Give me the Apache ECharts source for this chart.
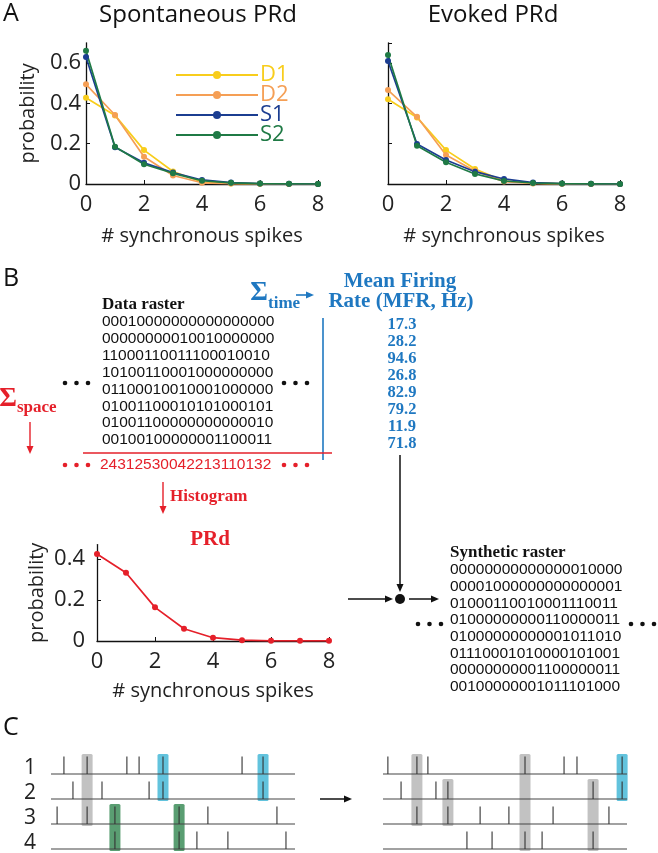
<!DOCTYPE html>
<html><head><meta charset="utf-8">
<script src="https://cdn.jsdelivr.net/npm/echarts@6/dist/echarts.min.js"></script>
<style>html,body{margin:0;padding:0;background:#fff}#c{width:658px;height:853px}</style>
</head><body><div id="c"></div>
<script>
// ---------- DATA ----------
const spikeCounts = [0,1,2,3,4,5,6,7,8];
const seriesNames = ['D1','D2','S1','S2'];
const spontD1 = [0.428,0.340,0.168,0.062,0.010,0.003,0.001,0,0];
const spontD2 = [0.494,0.342,0.135,0.042,0.006,0.002,0.001,0,0];
const spontS1 = [0.630,0.182,0.105,0.057,0.020,0.007,0.002,0.001,0];
const spontS2 = [0.660,0.185,0.098,0.053,0.016,0.006,0.002,0.001,0];
const evokD1 = [0.420,0.330,0.168,0.074,0.015,0.004,0.001,0,0];
const evokD2 = [0.466,0.333,0.144,0.065,0.012,0.003,0.001,0,0];
const evokS1 = [0.610,0.198,0.119,0.061,0.025,0.007,0.002,0.001,0];
const evokS2 = [0.640,0.190,0.108,0.050,0.015,0.005,0.002,0.001,0];
const prdExample = [0.424,0.333,0.164,0.060,0.016,0.004,0.001,0.001,0.001];

const dataRaster = [
  '00010000000000000000',
  '00000000010010000000',
  '11000110011100010010',
  '10100110001000000000',
  '01100010010001000000',
  '01001100010101000101',
  '01001100000000000010',
  '00100100000001100011'
];
const spaceSums = '24312530042213110132';
const mfrValues = ['17.3','28.2','94.6','26.8','82.9','79.2','11.9','71.8'];
const syntheticRaster = [
  '00000000000000010000',
  '00001000000000000001',
  '01000110010001110011',
  '01000000000110000011',
  '01000000000001011010',
  '01110001010000101001',
  '00000000001100000011',
  '00100000001011101000'
];
const rowLabels = ['1','2','3','4'];
// spike times (0-100 scale) per neuron row
const leftSpikes = [
  [5.3,14.8,31.1,36.1,45.9,78.3,86.9],
  [9.0,20.9,40.2,45.9,86.9],
  [2.5,14.8,26.2,52.5,64.3,92.6],
  [26.2,52.5,59.8,72.5,96.3]
];
// [time, firstRow, lastRow, colourIndex] 0 gray, 1 blue, 2 green
const leftBands = [[14.8,1,3,0],[45.9,1,2,1],[86.9,1,2,1],[26.2,3,4,2],[52.5,3,4,2]];
const rightSpikes = [
  [2.0,13.9,18.4,58.2,74.2,79.5,98.0],
  [7.4,21.7,26.6,86.1,98.0],
  [13.9,26.6,39.8,51.6,69.7,92.6],
  [34.4,44.7,58.2,65.2,86.1]
];
const rightBands = [[13.9,1,3,0],[26.6,2,3,0],[58.2,1,4,0],[86.1,2,4,0],[98.0,1,2,1]];

// ---------- STYLE ----------
const colors = {D1:'#F8CD1C', D2:'#F59F55', S1:'#1B3D91', S2:'#1F7A45'};
const RED = '#E5202A', BLUE = '#1F78C1';
const SANS = "'Open Sans', sans-serif";
const SERIF = "'Liberation Serif', 'Times New Roman', serif";
const ARIAL = "'Liberation Sans', Arial, sans-serif";
const bandColors = ['#C2C2C2','#62C3DD','#5A9E72'];

const chart = echarts.init(document.getElementById('c'), null, {renderer:'canvas'});
const pairs = arr => spikeCounts.map((x,i)=>[x,arr[i]]);

function probYAxis(gridIndex, max, margin, nameGap){
  return {type:'value', gridIndex, min:0, max, interval:0.2,
    axisLine:{show:true, lineStyle:{color:'#111', width:1.3}},
    axisTick:{show:true, inside:true, length:4, lineStyle:{color:'#111'}},
    splitLine:{show:false}, showMaxLabel:false,
    axisLabel:{show:true, fontSize:22, fontFamily:SANS, color:'#222', margin, showMaxLabel:false},
    name:'probability', nameLocation:'middle', nameGap, nameRotate:90,
    nameTextStyle:{fontSize:20, fontFamily:SANS, color:'#222'}};
}
function countXAxis(gridIndex, nameGap){
  return {type:'value', gridIndex, min:0, max:8, interval:2,
    axisLine:{show:true, lineStyle:{color:'#111', width:1.3}},
    axisTick:{show:true, inside:true, length:4, lineStyle:{color:'#111'}},
    splitLine:{show:false},
    axisLabel:{fontSize:22, fontFamily:SANS, color:'#222', margin:10},
    name:'# synchronous spikes', nameLocation:'middle', nameGap,
    nameTextStyle:{fontSize:20, fontFamily:SANS, color:'#222'}};
}
function lineSeries(name, data, xi, yi, color){
  return {type:'line', name, xAxisIndex:xi, yAxisIndex:yi, data:pairs(data),
    symbol:'circle', symbolSize:6, showSymbol:true,
    lineStyle:{color, width:1.7}, itemStyle:{color}, z:3};
}
function rasterXAxis(gi){return {type:'value', gridIndex:gi, min:0, max:100, show:false};}
function rasterYAxis(gi, showLabels){
  return {type:'value', gridIndex:gi, min:0, max:4.12, interval:1, inverse:true,
    axisLine:{show:false}, axisTick:{show:false}, splitLine:{show:false},
    axisLabel:{show:showLabels, fontSize:21, fontFamily:SANS, color:'#222', margin:15,
      verticalAlign:'bottom', lineHeight:12, showMaxLabel:false,
      formatter:v=> (v>=1 && v<=4) ? rowLabels[v-1] : ''}};
}
function spikeData(rows){const d=[];rows.forEach((r,i)=>r.forEach(t=>d.push([t,i+1])));return d;}
function spikeRender(p, api){
  const a = api.coord([api.value(0), api.value(1)]);
  const b = api.coord([api.value(0), api.value(1)-0.7]);
  return {type:'line', shape:{x1:a[0],y1:a[1],x2:b[0],y2:b[1]}, style:{stroke:'#333', lineWidth:1.1}};
}
function bandRender(p, api){
  const t=api.value(0), r1=api.value(1), r2=api.value(2), k=api.value(3);
  const a = api.coord([t, r1-0.8]); const b = api.coord([t, r2+0.08]);
  return {type:'rect', shape:{x:a[0]-5.5, y:a[1], width:11, height:b[1]-a[1], r:1.5}, style:{fill:bandColors[k]}};
}
function baseRender(p, api){
  const a = api.coord([0, api.value(1)]); const b = api.coord([100, api.value(1)]);
  return {type:'line', shape:{x1:a[0],y1:a[1],x2:b[0],y2:b[1]}, style:{stroke:'#444', lineWidth:1.2}};
}
const baseData = [[0,1],[0,2],[0,3],[0,4]];
function rasterSeries(xi, spikes, bands){
  return [
    {type:'custom', xAxisIndex:xi, yAxisIndex:xi, renderItem:bandRender, data:bands, z:1, silent:true},
    {type:'custom', xAxisIndex:xi, yAxisIndex:xi, renderItem:baseRender, data:baseData, z:2, silent:true},
    {type:'custom', xAxisIndex:xi, yAxisIndex:xi, renderItem:spikeRender, data:spikeData(spikes), z:3, silent:true}
  ];
}

// ---------- GRAPHICS (annotations) ----------
const G = [];
function txt(x,y,text,opt){
  G.push({type:'text', x, y, silent:true, style:Object.assign({text, fill:'#111', fontSize:16, fontFamily:SANS,
    textAlign:'left', textVerticalAlign:'middle'}, opt||{})});
}
function seg(x1,y1,x2,y2,color,w){G.push({type:'line', silent:true, shape:{x1,y1,x2,y2}, style:{stroke:color, lineWidth:w||1.4}});}
function head(x,y,dir,color){ // dir: 'r' or 'd'
  const pts = dir==='r' ? [[x,y],[x-8,y-3.5],[x-8,y+3.5]] : [[x,y],[x-3.5,y-8],[x+3.5,y-8]];
  G.push({type:'polygon', silent:true, shape:{points:pts}, style:{fill:color}});
}
function dot(x,y,r,color){G.push({type:'circle', silent:true, shape:{cx:x,cy:y,r}, style:{fill:color}});}
function dots3(x,y,color){[0,11.5,23].forEach(d=>dot(x+d,y,2.3,color));}

// Panel labels & titles
txt(3,14,'A',{fontSize:25});
txt(198,15,'Spontaneous PRd',{fontSize:24,textAlign:'center'});
txt(493,15,'Evoked PRd',{fontSize:24,textAlign:'center'});
txt(3,279,'B',{fontSize:25});
txt(3,728,'C',{fontSize:25});

// Data raster
txt(102,305,'Data raster',{fontFamily:SERIF,fontWeight:'bold',fontSize:17});
dataRaster.forEach((r,i)=>txt(102,322+i*16.85,r,{fontFamily:ARIAL,fontSize:15.5}));
dots3(65,383,'#111'); dots3(284,383,'#111');
// Sigma time
txt(259,293,'\u03A3',{fontFamily:SERIF,fontWeight:'bold',fontSize:27,fill:BLUE,textAlign:'center'});
txt(268,304,'time',{fontFamily:SERIF,fontWeight:'bold',fontSize:17,fill:BLUE});
seg(296,295,308,295,BLUE,1.6); head(314,295,'r',BLUE);
txt(400,282,'Mean Firing',{fontFamily:SERIF,fontWeight:'bold',fontSize:21,fill:BLUE,textAlign:'center'});
txt(401,302,'Rate (MFR, Hz)',{fontFamily:SERIF,fontWeight:'bold',fontSize:21,fill:BLUE,textAlign:'center'});
mfrValues.forEach((v,i)=>txt(402,325+i*16.9,v,{fontFamily:SERIF,fontWeight:'bold',fontSize:16.5,fill:BLUE,textAlign:'center'}));
seg(323,318,323,460,BLUE,1.6);
// Sigma space
txt(8,399,'\u03A3',{fontFamily:SERIF,fontWeight:'bold',fontSize:27,fill:RED,textAlign:'center'});
txt(17,408,'space',{fontFamily:SERIF,fontWeight:'bold',fontSize:17,fill:RED});
seg(30,422,30,447,RED,1.4); head(30,454,'d',RED);
seg(83,453,332,453,RED,1.6);
txt(100,465,spaceSums,{fontFamily:ARIAL,fontSize:15.5,fill:RED});
dots3(65,465,RED); dots3(284,465,RED);
seg(163,482,163,507,RED,1.4); head(163,514,'d',RED);
txt(170,497,'Histogram',{fontFamily:SERIF,fontWeight:'bold',fontSize:17,fill:RED});
txt(210,540,'PRd',{fontFamily:SERIF,fontWeight:'bold',fontSize:21,fill:RED,textAlign:'center'});
// Combination arrows
seg(400,455,400,585,'#111',1.5); head(400,592,'d','#111');
dot(400,599,5,'#111');
seg(348,599,386,599,'#111',1.5); head(393,599,'r','#111');
seg(409,599,432,599,'#111',1.5); head(439,599,'r','#111');
// Synthetic raster
txt(450,553,'Synthetic raster',{fontFamily:SERIF,fontWeight:'bold',fontSize:17});
syntheticRaster.forEach((r,i)=>txt(450,570+i*16.7,r,{fontFamily:ARIAL,fontSize:15.5}));
dots3(418,624,'#111'); dots3(631,624,'#111');
// Panel C arrow
seg(320,799,345,799,'#111',1.5); head(352,799,'r','#111');

const option = {
  animation:false,
  backgroundColor:'#fff',
  grid:[
    {left:86, top:42.8, width:232, height:141.2, outerBoundsMode:'none', containLabel:false},
    {left:388, top:42.8, width:232, height:141.2, outerBoundsMode:'none', containLabel:false},
    {left:97, top:544.6, width:232, height:96.4, outerBoundsMode:'none', containLabel:false},
    {left:51, top:749, width:244, height:103, outerBoundsMode:'none', containLabel:false},
    {left:383, top:749, width:244, height:103, outerBoundsMode:'none', containLabel:false}
  ],
  xAxis:[countXAxis(0,42), countXAxis(1,42), countXAxis(2,40), rasterXAxis(3), rasterXAxis(4)],
  yAxis:[probYAxis(0,0.7,5,48), Object.assign(probYAxis(1,0.7,5,48),{name:'',axisLabel:{show:false}}),
         probYAxis(2,0.47,12,50), rasterYAxis(3,true), rasterYAxis(4,false)],
  legend:{show:true, orient:'vertical', left:175, top:64, padding:0, itemWidth:82, itemHeight:10, itemGap:-2,
    textStyle:{fontSize:22, fontFamily:SANS, padding:[0,0,0,-3]},
    data:seriesNames.map(n=>({name:n, textStyle:{color:colors[n]}}))},
  series:[
    lineSeries('D1',spontD1,0,0,colors.D1), lineSeries('D2',spontD2,0,0,colors.D2),
    lineSeries('S1',spontS1,0,0,colors.S1), lineSeries('S2',spontS2,0,0,colors.S2),
    lineSeries('D1',evokD1,1,1,colors.D1), lineSeries('D2',evokD2,1,1,colors.D2),
    lineSeries('S1',evokS1,1,1,colors.S1), lineSeries('S2',evokS2,1,1,colors.S2),
    lineSeries('PRd',prdExample,2,2,RED),
    ...rasterSeries(3,leftSpikes,leftBands),
    ...rasterSeries(4,rightSpikes,rightBands)
  ],
  graphic:G
};
chart.setOption(option);
</script></body></html>
